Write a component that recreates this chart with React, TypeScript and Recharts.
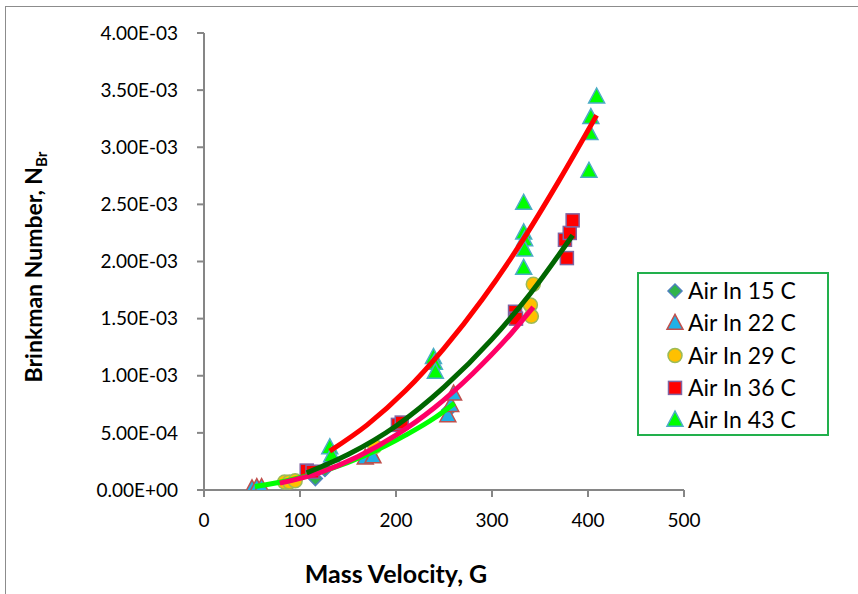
import React from "react";
import { ComposedChart, Scatter, XAxis, YAxis, Customized } from "recharts";

// Mass velocity G and Brinkman number N_Br per series
const g15 = [116, 126, 172, 255, 326];
const n15 = [0.10e-3, 0.18e-3, 0.30e-3, 0.70e-3, 1.52e-3];

const g22 = [50, 55, 60, 168, 176, 254, 257, 260];
const n22 = [0.01e-3, 0.02e-3, 0.02e-3, 0.28e-3, 0.29e-3, 0.65e-3, 0.74e-3, 0.84e-3];

const g29 = [84, 89, 95, 178, 340, 341, 343];
const n29 = [0.07e-3, 0.07e-3, 0.08e-3, 0.38e-3, 1.62e-3, 1.52e-3, 1.80e-3];

const g36 = [107, 113, 202, 206, 324, 325, 376, 378, 381, 384];
const n36 = [0.17e-3, 0.16e-3, 0.57e-3, 0.59e-3, 1.56e-3, 1.50e-3, 2.19e-3, 2.03e-3, 2.25e-3, 2.36e-3];

const g43 = [131, 133, 239, 240, 241, 333, 333, 334, 334, 333, 401, 402, 403, 409];
const n43 = [0.37e-3, 0.30e-3, 1.16e-3, 1.11e-3, 1.03e-3, 2.51e-3, 2.25e-3, 2.19e-3, 2.10e-3, 1.94e-3, 2.79e-3, 3.12e-3, 3.26e-3, 3.44e-3];

// Trendlines
const tg22 = [53, 90, 130, 170, 210, 240, 261];
const tn22 = [0.03e-3, 0.087e-3, 0.18e-3, 0.31e-3, 0.48e-3, 0.63e-3, 0.76e-3];
const tg29 = [79, 120, 160, 200, 240, 280, 320, 343];
const tn29 = [0.06e-3, 0.15e-3, 0.29e-3, 0.48e-3, 0.72e-3, 1.02e-3, 1.37e-3, 1.60e-3];
const tg36 = [107, 150, 200, 250, 300, 340, 384];
const tn36 = [0.15e-3, 0.31e-3, 0.56e-3, 0.90e-3, 1.32e-3, 1.72e-3, 2.23e-3];
const tg43 = [131, 170, 210, 250, 290, 330, 370, 409];
const tn43 = [0.34e-3, 0.57e-3, 0.87e-3, 1.24e-3, 1.67e-3, 2.16e-3, 2.71e-3, 3.28e-3];

const xTicks = [0, 100, 200, 300, 400, 500];
const yTicks = [0, 0.5e-3, 1e-3, 1.5e-3, 2e-3, 2.5e-3, 3e-3, 3.5e-3, 4e-3];
const seriesNames = ["Air In 15 C", "Air In 22 C", "Air In 29 C", "Air In 36 C", "Air In 43 C"];

const zip = (g: number[], n: number[]) => g.map((x, i) => ({ G: x, N: n[i] }));

const FONT = "Lato, 'Open Sans', sans-serif";

const fmt = (v: number) => {
  if (v === 0) return "0.00E+00";
  const e = Math.floor(Math.log10(v) + 1e-9);
  const m = v / Math.pow(10, e);
  return m.toFixed(2) + "E" + (e < 0 ? "-" : "+") + String(Math.abs(e)).padStart(2, "0");
};

const Diamond = (p: any) => {
  const { cx, cy } = p;
  const r = 7;
  return <polygon points={`${cx},${cy - r} ${cx + r},${cy} ${cx},${cy + r} ${cx - r},${cy}`} fill="#2fb44a" stroke="#4f81bd" strokeWidth={1.5} />;
};
const Tri = (fill: string, stroke: string) => (p: any) => {
  const { cx, cy } = p;
  return <polygon points={`${cx},${cy - 9} ${cx + 8},${cy + 6} ${cx - 8},${cy + 6}`} fill={fill} stroke={stroke} strokeWidth={1.5} />;
};
const Circ = (p: any) => <circle cx={p.cx} cy={p.cy} r={7} fill="#ffc000" stroke="#9bbb59" strokeWidth={1.5} />;
const Sq = (p: any) => <rect x={p.cx - 6.5} y={p.cy - 6.5} width={13} height={13} fill="#ff0000" stroke="#8064a2" strokeWidth={1.5} />;
const NoDot = () => null;

const Tri22 = Tri("#1fb1e6", "#c0504d");
const Tri43 = Tri("#00ff00", "#4bacc6");
const shapes = [Diamond, Tri22, Circ, Sq, Tri43];

const LegendBox = () => (
  <svg width={192} height={164} style={{ display: "block" }}>
    <rect x={1} y={1} width={190} height={162} fill="#fff" stroke="#22b04c" strokeWidth={2} />
    {seriesNames.map((name, i) => {
      const y = 19 + i * 32.3;
      const S = shapes[i];
      return (
        <g key={name}>
          <S cx={38} cy={y} />
          <text x={51} y={y + 8} fontSize={23} fontFamily={FONT} fill="#000">{name}</text>
        </g>
      );
    })}
  </svg>
);

const Titles = () => (
  <g>
    <text x={42} y={267} transform="rotate(-90 42 267)" textAnchor="middle" fontFamily={FONT} fontWeight={700} fontSize={23} fill="#000">
      Brinkman Number, N<tspan fontSize={15} dy={5}>Br</tspan>
    </text>
    <text x={396} y={583} textAnchor="middle" fontFamily={FONT} fontWeight={700} fontSize={25} fill="#000">
      Mass Velocity, G
    </text>
  </g>
);

export default function App() {
  return (
    <div style={{ position: "absolute", left: 0, top: 0, width: 858, height: 594, background: "#fff", overflow: "hidden" }}>
      <div style={{ position: "absolute", left: 5, top: 6, width: 1000, height: 1000, border: "1px solid #8c8c8c" }} />
      <div style={{ position: "absolute", left: 0, top: 0 }}>
        <ComposedChart width={858} height={594} margin={{ top: 33, right: 174, bottom: 64, left: 84 }}>
          <XAxis
            type="number"
            dataKey="G"
            domain={[0, 500]}
            ticks={xTicks}
            height={40}
            stroke="#868686"
            strokeWidth={2}
            tickSize={7}
            tickMargin={17}
            tick={{ fill: "#000", fontSize: 19, fontFamily: FONT }}
            allowDataOverflow
          />
          <YAxis
            type="number"
            dataKey="N"
            domain={[0, 0.004]}
            ticks={yTicks}
            width={120}
            stroke="#868686"
            strokeWidth={2}
            tickSize={7}
            tickMargin={19}
            tickFormatter={fmt}
            tick={{ fill: "#000", fontSize: 19, fontFamily: FONT }}
            allowDataOverflow
          />
          <Scatter name={seriesNames[0]} data={zip(g15, n15)} shape={Diamond} isAnimationActive={false} />
          <Scatter name={seriesNames[1]} data={zip(g22, n22)} shape={Tri22} isAnimationActive={false} />
          <Scatter name={seriesNames[2]} data={zip(g29, n29)} shape={Circ} isAnimationActive={false} />
          <Scatter name={seriesNames[3]} data={zip(g36, n36)} shape={Sq} isAnimationActive={false} />
          <Scatter name={seriesNames[4]} data={zip(g43, n43)} shape={Tri43} isAnimationActive={false} />
          <Scatter data={zip(tg22, tn22)} shape={NoDot} line={{ stroke: "#00ff00", strokeWidth: 5 }} lineJointType="monotoneX" isAnimationActive={false} legendType="none" />
          <Scatter data={zip(tg29, tn29)} shape={NoDot} line={{ stroke: "#ff0066", strokeWidth: 5 }} lineJointType="monotoneX" isAnimationActive={false} legendType="none" />
          <Scatter data={zip(tg36, tn36)} shape={NoDot} line={{ stroke: "#006600", strokeWidth: 5 }} lineJointType="monotoneX" isAnimationActive={false} legendType="none" />
          <Scatter data={zip(tg43, tn43)} shape={NoDot} line={{ stroke: "#ff0000", strokeWidth: 5 }} lineJointType="monotoneX" isAnimationActive={false} legendType="none" />
          <Customized component={Titles} />
        </ComposedChart>
      </div>
      <div style={{ position: "absolute", left: 637, top: 272 }}>
        <LegendBox />
      </div>
    </div>
  );
}
